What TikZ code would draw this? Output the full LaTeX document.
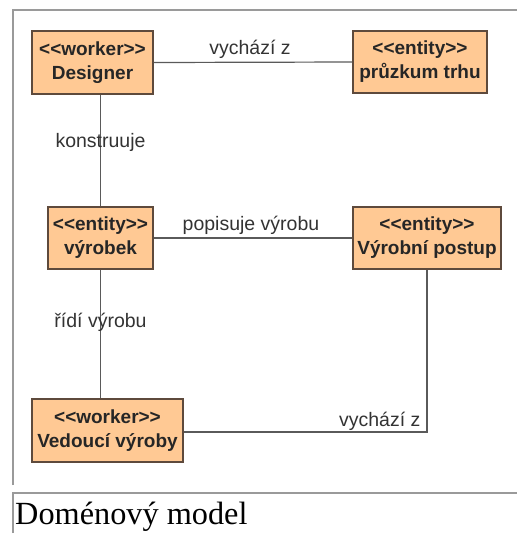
\documentclass[tikz,border=0pt]{standalone}
\usepackage{fontspec}
\setmainfont{Liberation Serif}
\newfontfamily\umlsans{Liberation Sans}
\begin{document}
\begin{tikzpicture}[x=1pt,y=-1pt,
  classbox/.style={draw=boxedge, fill=boxfill, line width=1.2pt, rectangle,
    inner sep=0pt, font=\umlsans\bfseries\fontsize{19}{24}\selectfont,
    align=center, text=black!85},
  assoc/.style={draw=linegrey, line width=1.2pt},
  lbl/.style={font=\umlsans\fontsize{19.5}{22}\selectfont, text=black!80, inner sep=2pt},
  frameline/.style={draw=framegrey, line width=1.6pt}]
\definecolor{boxfill}{HTML}{FFC994}
\definecolor{boxedge}{HTML}{5E4A3C}
\definecolor{linegrey}{HTML}{5A5A5A}
\definecolor{framegrey}{HTML}{9A9A9A}
\useasboundingbox (0,0) rectangle (517,539);
% outer frame of the diagram panel and the caption panel
\draw[frameline] (13,485) -- (13,10) -- (517,10);
\draw[frameline] (13,533) -- (13,493) -- (517,493);
\node[anchor=base west, inner sep=0pt, font=\fontsize{32.3}{36}\selectfont] (caption) at (15,524) {Doménový model};
% classes
\node[classbox, minimum width=121pt, minimum height=63pt] (designer) at (92.5,62.5) {<<worker>>\\Designer};
\node[classbox, minimum width=134pt, minimum height=62pt] (pruzkum) at (420,62) {<<entity>>\\průzkum trhu};
\node[classbox, minimum width=105pt, minimum height=62pt] (vyrobek) at (100.5,238) {<<entity>>\\výrobek};
\node[classbox, minimum width=148pt, minimum height=62pt] (postup) at (427,238) {<<entity>>\\Výrobní postup};
\node[classbox, minimum width=151pt, minimum height=63pt] (vedouci) at (107.5,430.5) {<<worker>>\\Vedoucí výroby};
% associations
\path[assoc] (designer.east) -- node[lbl, above=1pt, xshift=-3pt] (l1) {vychází z} (pruzkum.west);
\path[assoc] (vyrobek.north |- designer.south) -- node[lbl, pos=0.43] (l2) {konstruuje} (vyrobek.north);
\path[assoc] (vyrobek.east) -- node[lbl, above=1pt, xshift=-2pt] (l3) {popisuje výrobu} (postup.west);
\path[assoc] (vyrobek.south) -- node[lbl, pos=0.41] (l4) {řídí výrobu} (vyrobek.south |- vedouci.north);
\path[assoc] (postup.south) |- node[lbl, pos=0.5, anchor=south east, xshift=-4pt, yshift=-1pt] (l5) {vychází z} ([yshift=-1.5pt]vedouci.east);
\end{tikzpicture}
\end{document}
